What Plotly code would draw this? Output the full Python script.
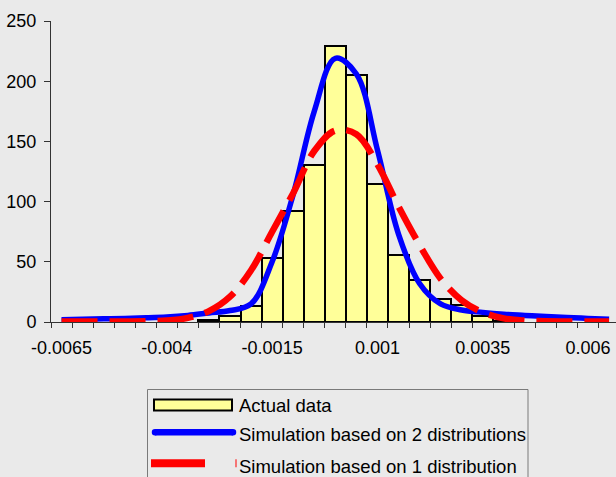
import plotly.graph_objects as go

# ---- data ----
bin_centers = [-0.0065, -0.006, -0.0055, -0.005, -0.0045, -0.004, -0.0035, -0.003, -0.0025,
               -0.002, -0.0015, -0.001, -0.0005, 0.0, 0.0005, 0.001, 0.0015, 0.002, 0.0025,
               0.003, 0.0035, 0.004, 0.0045, 0.005, 0.0055, 0.006, 0.0065]
actual_counts = [0, 0, 0, 0, 0, 0, 0, 2, 5, 13, 53, 92, 130, 229, 205, 115, 56, 35, 19,
                 14, 5, 1, 0, 0, 0, 0, 0]
sim_two_dist = [1.8, 2.2, 2.6, 3.0, 3.5, 4.2, 5.5, 7.5, 9.5, 15, 50, 106, 175, 219, 206,
                143, 73, 32, 15, 10, 8, 6.5, 5.5, 4.5, 3.7, 3.0, 2.3]
sim_one_dist = [0.5, 0.5, 0.5, 0.5, 0.6, 1.2, 3.4, 9, 21, 43, 75, 107, 142, 159, 156,
                131, 96, 64, 36, 18, 8, 3, 1.2, 0.6, 0.5, 0.5, 0.5]
tick_values = [-0.0065, -0.004, -0.0015, 0.001, 0.0035, 0.006]
tick_labels = ["-0.0065", "-0.004", "-0.0015", "0.001", "0.0035", "0.006"]
legend_labels = ["Actual data", "Simulation based on 2 distributions",
                 "Simulation based on 1 distribution"]
bin_width = 0.0005

# ---- layout constants (pixels) ----
W, H = 616, 477
ML, MR, MT, MB = 51, 0, 21, 155
PW, PH = W - ML - MR, H - MT - MB
FONT = "Liberation Sans, Arial, sans-serif"
BG = "#EAEAEA"
AXC = "#333333"

bar_x = [c for c, v in zip(bin_centers, actual_counts) if v > 0]
bar_y = [v for v in actual_counts if v > 0]

fig = go.Figure()
fig.add_trace(go.Bar(x=bar_x, y=bar_y, width=bin_width,
                     marker=dict(color="#FFFF99", line=dict(color="black", width=2)),
                     showlegend=False, name=legend_labels[0]))
fig.add_trace(go.Scatter(x=bin_centers, y=sim_two_dist, mode="lines",
                         line=dict(color="#0000FF", width=5.5, shape="spline", smoothing=1),
                         showlegend=False, name=legend_labels[1]))
fig.add_trace(go.Scatter(x=bin_centers, y=sim_one_dist, mode="lines",
                         line=dict(color="#FF0000", width=6.5, shape="spline", smoothing=1,
                                   dash="36px,12px"),
                         showlegend=False, name=legend_labels[2]))

left = bin_centers[0] - bin_width / 2
px_per_unit = 21.06 / bin_width
right = left + PW / px_per_unit
boundaries = [c - bin_width / 2 for c in bin_centers] + [bin_centers[-1] + bin_width / 2]

fig.update_layout(
    width=W, height=H,
    margin=dict(l=ML, r=MR, t=MT, b=MB, pad=0),
    paper_bgcolor=BG, plot_bgcolor=BG,
    font=dict(family=FONT, size=18, color="black"),
    bargap=0,
    xaxis=dict(range=[left, right], tickmode="array", tickvals=tick_values,
               ticktext=tick_labels, ticks="", showgrid=False, zeroline=False,
               showline=True, linecolor=AXC, linewidth=1, ticklabelstandoff=9,
               minor=dict(tickmode="array", tickvals=boundaries, ticks="outside",
                          ticklen=5, tickcolor=AXC, tickwidth=1, showgrid=False),
               tickfont=dict(size=18), fixedrange=True),
    yaxis=dict(range=[0, 250], tickmode="linear", tick0=0, dtick=50, ticks="outside",
               ticklen=6, tickcolor=AXC, tickwidth=1, showgrid=False, zeroline=False,
               showline=True, linecolor=AXC, linewidth=1, tickfont=dict(size=18),
               ticklabelstandoff=4, fixedrange=True),
)

def px2paper(px, py):
    return (px - ML) / PW, (H - MB - py) / PH

shapes = []
def rect(x0, y0, x1, y1, kind="rect", **kw):
    a, b = px2paper(x0, y0)
    c, d = px2paper(x1, y1)
    shapes.append(dict(type=kind, xref="paper", yref="paper", x0=a, y0=b, x1=c, y1=d, **kw))

def hline(x0, x1, y, **kw):
    a, b = px2paper(x0, y)
    c, _ = px2paper(x1, y)
    shapes.append(dict(type="line", xref="paper", yref="paper", x0=a, y0=b, x1=c, y1=b, **kw))

# legend box
rect(147.5, 389.5, 528, 495, line=dict(color="#7A7A7A", width=1), fillcolor=BG, layer="above")
# symbols
rect(154, 399.5, 232, 410.5, line=dict(color="black", width=2), fillcolor="#FFFF99", layer="above")
hline(155, 233, 432.3, line=dict(color="#0000FF", width=6.5), layer="above")
for cx in (155, 233):
    rect(cx - 3.25, 432.3 - 3.25, cx + 3.25, 432.3 + 3.25, kind="circle",
         line=dict(width=0), fillcolor="#0000FF", layer="above")
rect(151, 459.3, 205, 467.3, line=dict(width=0), fillcolor="#FF0000", layer="above")
rect(235.5, 459.3, 236.5, 467.3, line=dict(width=0), fillcolor="#FF0000", layer="above")
fig.update_layout(shapes=shapes)

for label, yc in zip(legend_labels, [405, 434.5, 466]):
    ax, ay = px2paper(237.5, yc)
    fig.add_annotation(x=ax, y=ay, xref="paper", yref="paper", text=label, showarrow=False,
                       xanchor="left", yanchor="middle", font=dict(size=18.5, family=FONT),
                       borderpad=0)

fig.write_html("out.html", config={"displayModeBar": False},
               post_script="document.body.style.margin='0';document.body.style.padding='0';"
                           "document.body.style.overflow='hidden';")
